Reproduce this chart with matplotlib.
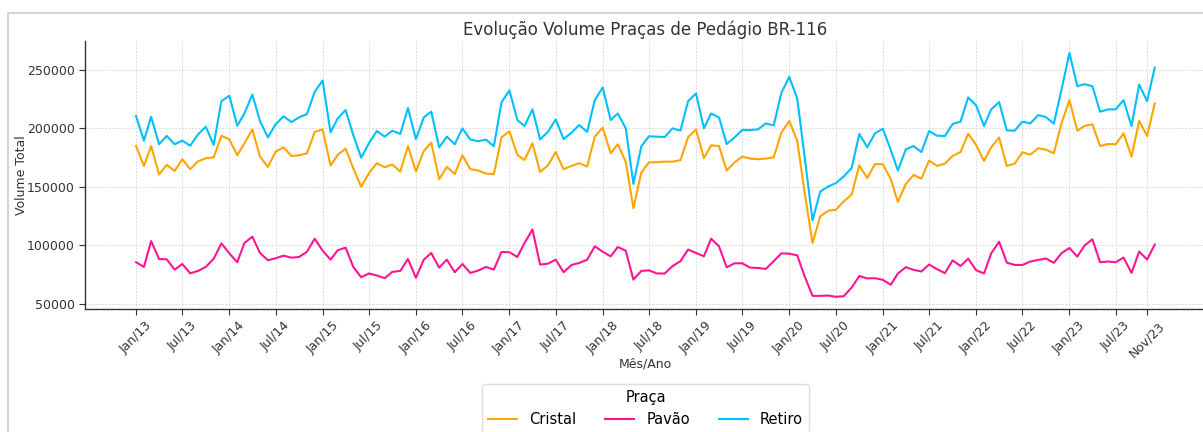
import matplotlib

matplotlib.use("Agg")
import matplotlib.pyplot as plt
import pandas as pd
from matplotlib.patches import Rectangle


W, H = 1203, 432

months = pd.date_range("2013-01-01", periods=132, freq="MS")

cristal = [
    184700, 167700, 184700, 160400, 168600, 163500, 173400, 164900, 171700, 174300, 175100, 193500,
    190400, 176800, 187000, 198900, 175700, 166900, 179900, 183600, 176200, 176800, 178500, 196700,
    198900, 168100, 177100, 182500, 165700, 149900, 161500, 170000, 166600, 168900, 162900, 184700,
    162900, 180500, 187600, 156400, 166900, 160900, 176800, 164900, 163800, 161200, 160600, 192100,
    197200, 177100, 172800, 187000, 162600, 168300, 179600, 164900, 167700, 170000, 167200, 192700,
    200400, 178500, 186200, 171400, 131700, 162100, 170800, 170800, 171400, 171400, 172600, 192100,
    198900, 174300, 185300, 184700, 163800, 170800, 175700, 174000, 173400, 174000, 175100, 196200,
    206100, 189100, 145100, 101900, 124600, 129400, 130300, 137400, 143300, 168300, 157400, 169300,
    169100, 156400, 137000, 152300, 160000, 156900, 172300, 167700, 169700, 176200, 179600, 195200,
    185600, 172000, 183600, 191900, 167700, 169700, 179300, 177300, 182800, 181600, 178500, 204000,
    223900, 197800, 201800, 203200, 184700, 186400, 186200, 195500, 175700, 206100, 193300, 221100,
]

pavao = [
    85500, 81500, 103600, 88300, 88000, 79200, 84000, 76100, 78100, 81500, 88600, 101600,
    93100, 85500, 101900, 107300, 93400, 87200, 88900, 91100, 89400, 90000, 94500, 105600,
    95400, 87700, 95700, 98000, 81500, 72700, 75900, 74200, 71900, 77300, 78100, 88300,
    72200, 87700, 93400, 80900, 87700, 77000, 84000, 76400, 78400, 81500, 79200, 94300,
    94000, 90000, 101900, 113500, 83500, 84300, 87700, 77000, 83200, 84900, 87700, 99100,
    94500, 90500, 98500, 95400, 70700, 78100, 78600, 75900, 75900, 82200, 86400, 96300,
    93400, 90600, 105600, 99100, 81200, 84600, 84600, 80900, 80600, 79800, 86400, 93100,
    92800, 91400, 73500, 56800, 56800, 57100, 56000, 56500, 63900, 73700, 71700, 71900,
    70500, 66300, 75900, 81300, 79000, 77600, 83600, 79600, 76200, 87100, 82300, 88600,
    78700, 75900, 93100, 103000, 85200, 83200, 83200, 86100, 87500, 88700, 85000, 93200,
    97700, 90300, 99700, 105100, 85500, 86100, 85500, 89500, 76400, 94600, 87800, 100600,
]

retiro = [
    210300, 189300, 209700, 186200, 193300, 186200, 189300, 185000, 194700, 201200, 185600, 223000,
    227600, 202000, 212500, 228700, 206000, 192100, 203200, 210000, 205200, 209200, 212000, 231000,
    240600, 196400, 208300, 215400, 194100, 174800, 187000, 197500, 192700, 197800, 195000, 217100,
    190600, 209200, 214000, 183600, 192700, 186200, 199800, 190200, 188800, 190200, 184500, 222000,
    232200, 206900, 201800, 216000, 190400, 196900, 207400, 190600, 196100, 202600, 196700, 223900,
    234700, 206900, 212500, 199800, 152400, 184500, 193000, 192700, 192400, 199800, 197800, 223000,
    229600, 199800, 212500, 209100, 186400, 192100, 198400, 198400, 198900, 204000, 202300, 230100,
    243700, 225300, 175600, 121200, 145900, 150100, 153000, 158700, 166000, 195000, 183600, 195500,
    199500, 181300, 163800, 181900, 184700, 179600, 197500, 193500, 193300, 203500, 205500, 226200,
    219400, 201800, 216000, 222200, 198100, 197800, 205500, 204000, 211100, 209400, 203800, 232700,
    264200, 235800, 237500, 235800, 214000, 216000, 216000, 223900, 201800, 237200, 223000, 251700,
]

tick_dates = pd.to_datetime([
    "2013-01-01", "2013-07-01", "2014-01-01", "2014-07-01", "2015-01-01", "2015-07-01",
    "2016-01-01", "2016-07-01", "2017-01-01", "2017-07-01", "2018-01-01", "2018-07-01",
    "2019-01-01", "2019-07-01", "2020-01-01", "2020-07-01", "2021-01-01", "2021-07-01",
    "2022-01-01", "2022-07-01", "2023-01-01", "2023-07-01", "2023-11-01",
])
tick_labels = [
    "Jan/13", "Jul/13", "Jan/14", "Jul/14", "Jan/15", "Jul/15", "Jan/16", "Jul/16",
    "Jan/17", "Jul/17", "Jan/18", "Jul/18", "Jan/19", "Jul/19", "Jan/20", "Jul/20",
    "Jan/21", "Jul/21", "Jan/22", "Jul/22", "Jan/23", "Jul/23", "Nov/23",
]

series = [("Cristal", cristal, "#FFA500"), ("Pavão", pavao, "#FF1493"), ("Retiro", retiro, "#00BFFF")]

fig = plt.figure(figsize=(W / 100, H / 100), dpi=100)
# moldura cinza clara em volta da figura (cortada embaixo e à direita)
fig.patches.append(
    Rectangle((8 / W, -0.2), 1.2, 0.2 + (H - 13) / H, transform=fig.transFigure,
              fill=False, edgecolor="#d6d6d6", linewidth=1.5)
)

ax = fig.add_axes([85.1 / W, (H - 309) / H, (1205.7 - 85.1) / W, (309 - 40.7) / H])
for name, values, color in series:
    ax.plot(months, values, color=color, linewidth=1.5, label=name)

ax.set_xticks(tick_dates)
ax.set_xticklabels(tick_labels, rotation=45, ha="center", fontsize=9, color="#333333")
ax.tick_params(axis="y", labelsize=9, labelcolor="#333333")
ax.tick_params(axis="both", length=4, width=0.8, color="#333333")
ax.set_yticks([50000, 100000, 150000, 200000, 250000])
ax.grid(True, linestyle=(0, (2, 2)), linewidth=0.6, color="#d0d0d0")
ax.set_axisbelow(True)
for side in ("top", "right"):
    ax.spines[side].set_visible(False)
for side in ("left", "bottom"):
    ax.spines[side].set_color("#333333")
    ax.spines[side].set_linewidth(1.0)

ax.set_title("Evolução Volume Praças de Pedágio BR-116", fontsize=12, color="#333333", pad=4)
ax.set_xlabel("Mês/Ano", fontsize=9, color="#333333", labelpad=-2)
ax.set_ylabel("Volume Total", fontsize=9, color="#333333", labelpad=-1)

fig.legend(title="Praça", loc="upper center", bbox_to_anchor=(645.5 / W, (H - 377) / H), ncol=3,
           fontsize=10.5, title_fontsize=10.5, frameon=True, edgecolor="#d6d6d6", fancybox=True)

fig.savefig("out.png", dpi=100)
